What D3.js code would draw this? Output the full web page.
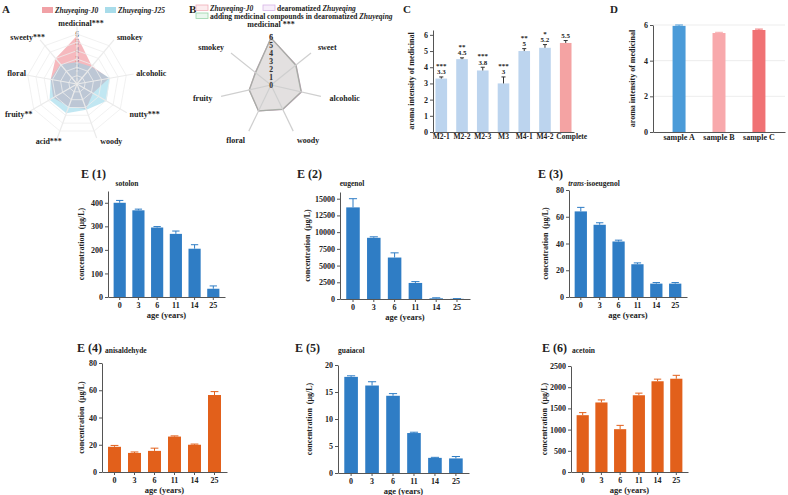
<!DOCTYPE html>
<html>
<head>
<meta charset="utf-8">
<script src="https://cdn.jsdelivr.net/npm/d3@7"></script>
<style>
body { margin: 0; background: #fff; }
svg text { font-family: "Liberation Serif", "Times New Roman", serif; font-weight: bold; fill: #222; }
</style>
</head>
<body>
<svg id="fig" width="788" height="495"></svg>
<script>
// ---- data ----
var radarAxesA = ["medicinal***", "smokey", "alcoholic", "nutty***", "woody", "acid***", "fruity**", "floral", "sweety***"];
var radarA_J0 = [5.8, 2.8, 3.9, 2.2, 3.2, 2.9, 3.3, 3.2, 4.0];
var radarA_J25 = [2.6, 2.7, 4.0, 4.1, 3.3, 3.75, 3.8, 3.2, 3.1];

var radarAxesB = ["medicinal ***", "sweet", "alcoholic", "woody", "floral", "fruity", "smokey"];
var radarB_J0 = [5.9, 4.0, 3.9, 3.4, 3.6, 2.8, 2.5];
var radarB_dearom = [5.85, 4.0, 3.9, 3.4, 3.6, 2.75, 2.5];
var radarB_adding = [5.9, 3.95, 3.85, 3.35, 3.6, 2.8, 2.45];
var radarTicks = [0, 1, 2, 3, 4, 5, 6];

var cCats = ["M2-1", "M2-2", "M2-3", "M3", "M4-1", "M4-2", "Complete"];
var cVals = [3.3, 4.5, 3.8, 3, 5, 5.2, 5.5];
var cErr = [0.1, 0.08, 0.2, 0.4, 0.15, 0.2, 0.15];
var cStars = ["***", "**", "***", "***", "**", "*", ""];
var cTicks = [0, 1, 2, 3, 4, 5, 6];

var dCats = ["sample A", "sample B", "sample C"];
var dVals = [5.95, 5.55, 5.72];
var dErr = [0.05, 0.04, 0.05];
var dTicks = [0, 2, 4, 6];

var ages = ["0", "3", "6", "11", "14", "25"];
var sotolon = [400, 368, 295, 268, 205, 35];
var sotolonErr = [10, 5, 4, 12, 17, 12];
var eugenol = [13700, 9150, 6200, 2400, 100, 30];
var eugenolErr = [1300, 150, 700, 200, 80, 30];
var isoeugenol = [64, 54, 41.5, 24.5, 10, 10];
var isoeugenolErr = [3, 1.5, 1, 1, 0.8, 0.8];
var anisaldehyde = [18.5, 14, 15.5, 26, 20, 56.5];
var anisaldehydeErr = [1, 0.7, 2, 0.5, 0.5, 2.5];
var guaiacol = [17.8, 16.2, 14.3, 7.4, 2.8, 2.7];
var guaiacolErr = [0.2, 0.7, 0.4, 0.15, 0.1, 0.35];
var acetoin = [1340, 1640, 1010, 1810, 2140, 2200];
var acetoinErr = [60, 60, 90, 50, 50, 80];

var blue = "#2f7dc5", orange = "#e2601b";

var svg = d3.select("#fig");

function label(t, x, y, size, anchor) {
  return svg.append("text").attr("x", x).attr("y", y)
    .attr("font-size", size).attr("text-anchor", anchor || "start").text(t);
}

// panel letters
label("A", 2, 13, 11);
label("B", 189, 13, 11);
label("C", 403, 13, 11);
label("D", 610, 13, 11);

function drawRadar(o) {
  var g = svg.append("g").attr("transform", "translate(" + o.cx + "," + o.cy + ")");
  var n = o.axes.length;
  var r = d3.scaleLinear().domain([0, 6]).range([0, o.radius]);
  var ang = function(i) { return i * 2 * Math.PI / n; };

  // tick labels on the first axis (under the fills)
  g.selectAll(".tk").data(radarTicks).enter().append("text")
    .attr("x", 0).attr("y", function(d) { return -r(d); })
    .attr("dy", "0.35em").attr("text-anchor", "middle")
    .attr("font-size", 7.5).style("fill", o.tickColor)
    .text(function(d) { return d; });

  var line = d3.lineRadial()
    .angle(function(d, i) { return ang(i); })
    .radius(function(d) { return r(d); })
    .curve(d3.curveLinearClosed);

  o.series.forEach(function(s) {
    g.append("path").attr("d", line(s.values))
      .attr("fill", s.fill).attr("fill-opacity", s.fillOpacity)
      .attr("stroke", s.stroke).attr("stroke-width", s.strokeWidth).attr("stroke-opacity", s.strokeOpacity);
  });

  // grid
  if (o.rings) {
    radarTicks.slice(1).forEach(function(t) {
      g.append("path").attr("d", line(o.axes.map(function() { return t; })))
        .attr("fill", "none").attr("stroke", o.gridColor).attr("stroke-width", 0.8);
    });
  }
  g.selectAll(".spoke").data(o.axes).enter().append("line")
    .attr("x1", 0).attr("y1", 0)
    .attr("x2", function(d, i) { return Math.sin(ang(i)) * r(o.spokeLen); })
    .attr("y2", function(d, i) { return -Math.cos(ang(i)) * r(o.spokeLen); })
    .attr("stroke", o.spokeColor).attr("stroke-width", o.spokeWidth);

  if (o.ticksOnTop) {
    g.selectAll(".tk2").data(radarTicks).enter().append("text")
      .attr("x", 0).attr("y", function(d) { return -r(d); })
      .attr("dy", "0.35em").attr("text-anchor", "middle")
      .attr("font-size", 7.5).style("fill", "#333")
      .text(function(d) { return d; });
  }

  g.selectAll(".lab").data(o.axes).enter().append("text")
    .attr("x", function(d, i) { return o.labelDx + Math.sin(ang(i)) * o.labelRx; })
    .attr("y", function(d, i) { return -Math.cos(ang(i)) * o.labelRy; })
    .attr("dy", "0.35em")
    .attr("text-anchor", function(d, i) {
      var s = Math.sin(ang(i));
      return s > 0.3 ? "start" : (s < -0.3 ? "end" : "middle");
    })
    .attr("font-size", 8).text(function(d) { return d; });
}

// ---- A ----
drawRadar({
  cx: 77, cy: 84, radius: 50, axes: radarAxesA, spokeLen: 6.9, labelRx: 56, labelRy: 61, labelDx: 4,
  rings: true, gridColor: "#eeeeee", spokeColor: "#ebebeb", spokeWidth: 1.2,
  tickColor: "#666",
  series: [
    { values: radarA_J0, fill: "#ee8089", fillOpacity: 0.55, stroke: "none", strokeWidth: 0, strokeOpacity: 0 },
    { values: radarA_J25, fill: "#8ed3e8", fillOpacity: 0.55, stroke: "none", strokeWidth: 0, strokeOpacity: 0 }
  ]
});

var legA = [
  { name: "Zhuyeqing-J0", color: "#f1a1a6", x: 42 },
  { name: "Zhuyeqing-J25", color: "#a8dcea", x: 105 }
];
legA.forEach(function(l) {
  svg.append("rect").attr("x", l.x).attr("y", 7).attr("width", 11).attr("height", 6).attr("fill", l.color);
  label(l.name, l.x + 13, 12.5, 7.5).style("font-style", "italic");
});

// ---- B ----
drawRadar({
  cx: 271, cy: 85, radius: 48, axes: radarAxesB, spokeLen: 6.4, labelRx: 60, labelRy: 61, labelDx: 0,
  rings: false, spokeColor: "#cfcfcf", spokeWidth: 1.2, tickColor: "#333", ticksOnTop: true,
  series: [
    { values: radarB_J0, fill: "#d9d4d4", fillOpacity: 0.35, stroke: "#b88e94", strokeWidth: 1.2, strokeOpacity: 0.6 },
    { values: radarB_dearom, fill: "#d9d4d4", fillOpacity: 0.35, stroke: "#a898b0", strokeWidth: 1.2, strokeOpacity: 0.6 },
    { values: radarB_adding, fill: "#d9d4d4", fillOpacity: 0.35, stroke: "#98a898", strokeWidth: 1.2, strokeOpacity: 0.6 }
  ]
});

var legB = [
  { parts: [["Zhuyeqing-J0", true]], stroke: "#f0b0b8", fill: "#fcecee", x: 196, y: 5 },
  { parts: [["dearomatized ", false], ["Zhuyeqing", true]], stroke: "#d8b4e6", fill: "#f7eefa", x: 263, y: 5 },
  { parts: [["adding medicinal compounds in dearomatized ", false], ["Zhuyeqing", true]], stroke: "#98d4a8", fill: "#eaf7ee", x: 196, y: 13 }
];
legB.forEach(function(l) {
  svg.append("rect").attr("x", l.x).attr("y", l.y).attr("width", 12).attr("height", 5.5)
    .attr("fill", l.fill).attr("stroke", l.stroke).attr("stroke-width", 0.8);
  var t = label("", l.x + 14, l.y + 5.5, 7.5);
  l.parts.forEach(function(p) {
    t.append("tspan").style("font-style", p[1] ? "italic" : "normal").text(p[0]);
  });
});

// ---- bar panels ----
function drawBars(o) {
  var x = d3.scaleBand().domain(o.cats).range([o.x0, o.x1]).paddingInner(o.pi).paddingOuter(o.po);
  var y = d3.scaleLinear().domain([0, o.max]).range([o.y0, o.y1]);
  var g = svg.append("g");
  var bw = x.bandwidth();

  if (o.grid) {
    g.selectAll(".grid").data(o.ticks.slice(1)).enter().append("line")
      .attr("x1", o.x0).attr("x2", o.x1)
      .attr("y1", function(d) { return y(d); }).attr("y2", function(d) { return y(d); })
      .attr("stroke", "#ededed").attr("stroke-width", 1);
  }

  g.selectAll(".bar").data(o.vals).enter().append("rect")
    .attr("x", function(d, i) { return x(o.cats[i]); })
    .attr("y", function(d) { return y(d); })
    .attr("width", bw)
    .attr("height", function(d) { return o.y0 - y(d); })
    .attr("fill", function(d, i) { return o.colors[i % o.colors.length]; });

  var eb = g.selectAll(".err").data(o.vals).enter().append("g")
    .attr("stroke", function(d, i) { return o.errColor || o.colors[i % o.colors.length]; })
    .attr("stroke-width", 1);
  eb.append("line")
    .attr("x1", function(d, i) { return x(o.cats[i]) + bw / 2; })
    .attr("x2", function(d, i) { return x(o.cats[i]) + bw / 2; })
    .attr("y1", function(d) { return y(d); })
    .attr("y2", function(d, i) { return y(d + o.errs[i]); });
  eb.append("line")
    .attr("x1", function(d, i) { return x(o.cats[i]) + bw / 2 - bw * o.cap / 2; })
    .attr("x2", function(d, i) { return x(o.cats[i]) + bw / 2 + bw * o.cap / 2; })
    .attr("y1", function(d, i) { return y(d + o.errs[i]); })
    .attr("y2", function(d, i) { return y(d + o.errs[i]); });

  var ya = g.append("g").attr("transform", "translate(" + o.x0 + ",0)")
    .call(d3.axisLeft(y).tickValues(o.ticks).tickFormat(d3.format("d")).tickSize(3).tickSizeOuter(0).tickPadding(2));
  var xa = g.append("g").attr("transform", "translate(0," + o.y0 + ")")
    .call(d3.axisBottom(x).tickSize(o.xTick).tickSizeOuter(0).tickPadding(2));
  [ya, xa].forEach(function(a) {
    a.attr("font-family", null).attr("font-size", null);
    a.select(".domain").attr("stroke", "#555");
    a.selectAll(".tick line").attr("stroke", "#555");
    a.selectAll(".tick text").attr("font-size", 8).style("fill", "#222");
  });
  if (o.xTickSize) xa.selectAll(".tick text").attr("font-size", o.xTickSize);

  g.append("text")
    .attr("transform", "translate(" + o.tx + "," + ((o.y0 + o.y1) / 2) + ") rotate(-90)")
    .attr("dy", "0.35em").attr("text-anchor", "middle").attr("font-size", 8)
    .text(o.ytitle);

  if (o.xtitle) {
    g.append("text").attr("x", (o.x0 + o.x1) / 2).attr("y", o.y0 + 21)
      .attr("text-anchor", "middle").attr("font-size", 8.5).text(o.xtitle);
  }
  return { x: x, y: y, g: g, xa: xa };
}

// ---- C ----
var c = drawBars({
  cats: cCats, vals: cVals, errs: cErr, colors: ["#bcd4ee", "#bcd4ee", "#bcd4ee", "#bcd4ee", "#bcd4ee", "#bcd4ee", "#f4a3a3"],
  errColor: "#333", cap: 0.35, xTickSize: 7.5,
  x0: 433, x1: 574, y0: 132, y1: 30, max: 6.3, ticks: cTicks, pi: 0.44, po: 0.12, xTick: 0,
  tx: 411, ytitle: "aroma intensity of medicinal"
});
// "Complete" sits a little to the right of its bar in the original
c.xa.selectAll(".tick text").filter(function(d) { return d === "Complete"; }).attr("dx", 6);
c.g.selectAll(".vlab").data(cVals).enter().append("text")
  .attr("x", function(d, i) { return c.x(cCats[i]) + c.x.bandwidth() / 2; })
  .attr("y", function(d, i) { return c.y(d + cErr[i]) - 2.5; })
  .attr("text-anchor", "middle").attr("font-size", 7)
  .text(function(d) { return d; });
c.g.selectAll(".star").data(cStars).enter().append("text")
  .attr("x", function(d, i) { return c.x(cCats[i]) + c.x.bandwidth() / 2; })
  .attr("y", function(d, i) { return c.y(cVals[i] + cErr[i]) - 9; })
  .attr("text-anchor", "middle").attr("font-size", 7)
  .text(function(d) { return d; });

// ---- D ----
drawBars({
  cats: dCats, vals: dVals, errs: dErr, colors: ["#4b9bd8", "#f8a9ac", "#f07274"], cap: 0.6,
  x0: 653, x1: 785, y0: 132, y1: 25, max: 6, ticks: dTicks, pi: 0.675, po: 0.49, xTick: 0, grid: true,
  tx: 632, ytitle: "aroma intensity of medicinal"
});

// ---- E ----
var ytitleE = "concentration\u00a0\u00a0(\u03bcg/L)";
var ePanels = [
  { tag: "E (1)", name: "sotolon", tagX: 81, tagY: 178, nameX: 127, nameY: 186, nameAnchor: "middle",
    vals: sotolon, errs: sotolonErr, color: blue, x0: 108, x1: 225, y0: 297, y1: 191, max: 450,
    ticks: [0, 100, 200, 300, 400], tx: 81 },
  { tag: "E (2)", name: "eugenol", tagX: 297, tagY: 178, nameX: 352, nameY: 186, nameAnchor: "middle",
    vals: eugenol, errs: eugenolErr, color: blue, x0: 340, x1: 470, y0: 299, y1: 192, max: 16000,
    ticks: [0, 2500, 5000, 7500, 10000, 12500, 15000], tx: 307 },
  { tag: "E (3)", name: "isoeugenol", italicPrefix: "trans-", tagX: 538, tagY: 178, nameX: 594, nameY: 186, nameAnchor: "middle",
    vals: isoeugenol, errs: isoeugenolErr, color: blue, x0: 569, x1: 687, y0: 297, y1: 190, max: 80,
    ticks: [0, 20, 40, 60, 80], tx: 545 },
  { tag: "E (4)", name: "anisaldehyde", tagX: 77, tagY: 352, nameX: 105, nameY: 353, nameAnchor: "start",
    vals: anisaldehyde, errs: anisaldehydeErr, color: orange, x0: 102, x1: 227, y0: 472, y1: 363, max: 80,
    ticks: [0, 20, 40, 60, 80], tx: 81 },
  { tag: "E (5)", name: "guaiacol", tagX: 295, tagY: 352, nameX: 338, nameY: 353, nameAnchor: "start",
    vals: guaiacol, errs: guaiacolErr, color: blue, x0: 338, x1: 469, y0: 473, y1: 365, max: 20,
    ticks: [0, 5, 10, 15, 20], tx: 309 },
  { tag: "E (6)", name: "acetoin", tagX: 542, tagY: 352, nameX: 572, nameY: 353, nameAnchor: "start",
    vals: acetoin, errs: acetoinErr, color: orange, x0: 571, x1: 688, y0: 472, y1: 366, max: 2500,
    ticks: [0, 500, 1000, 1500, 2000, 2500], tx: 544 }
];

ePanels.forEach(function(p) {
  label(p.tag, p.tagX, p.tagY, 12);
  var t = label("", p.nameX, p.nameY, 7.5, p.nameAnchor);
  if (p.italicPrefix) t.append("tspan").style("font-style", "italic").text(p.italicPrefix);
  t.append("tspan").text(p.name);
  drawBars({
    cats: ages, vals: p.vals, errs: p.errs, colors: [p.color], cap: 0.6,
    x0: p.x0, x1: p.x1, y0: p.y0, y1: p.y1, max: p.max, ticks: p.ticks, pi: 0.35, po: 0.3, xTick: 3,
    tx: p.tx, ytitle: ytitleE, xtitle: "age (years)"
  });
});
</script>
</body>
</html>
